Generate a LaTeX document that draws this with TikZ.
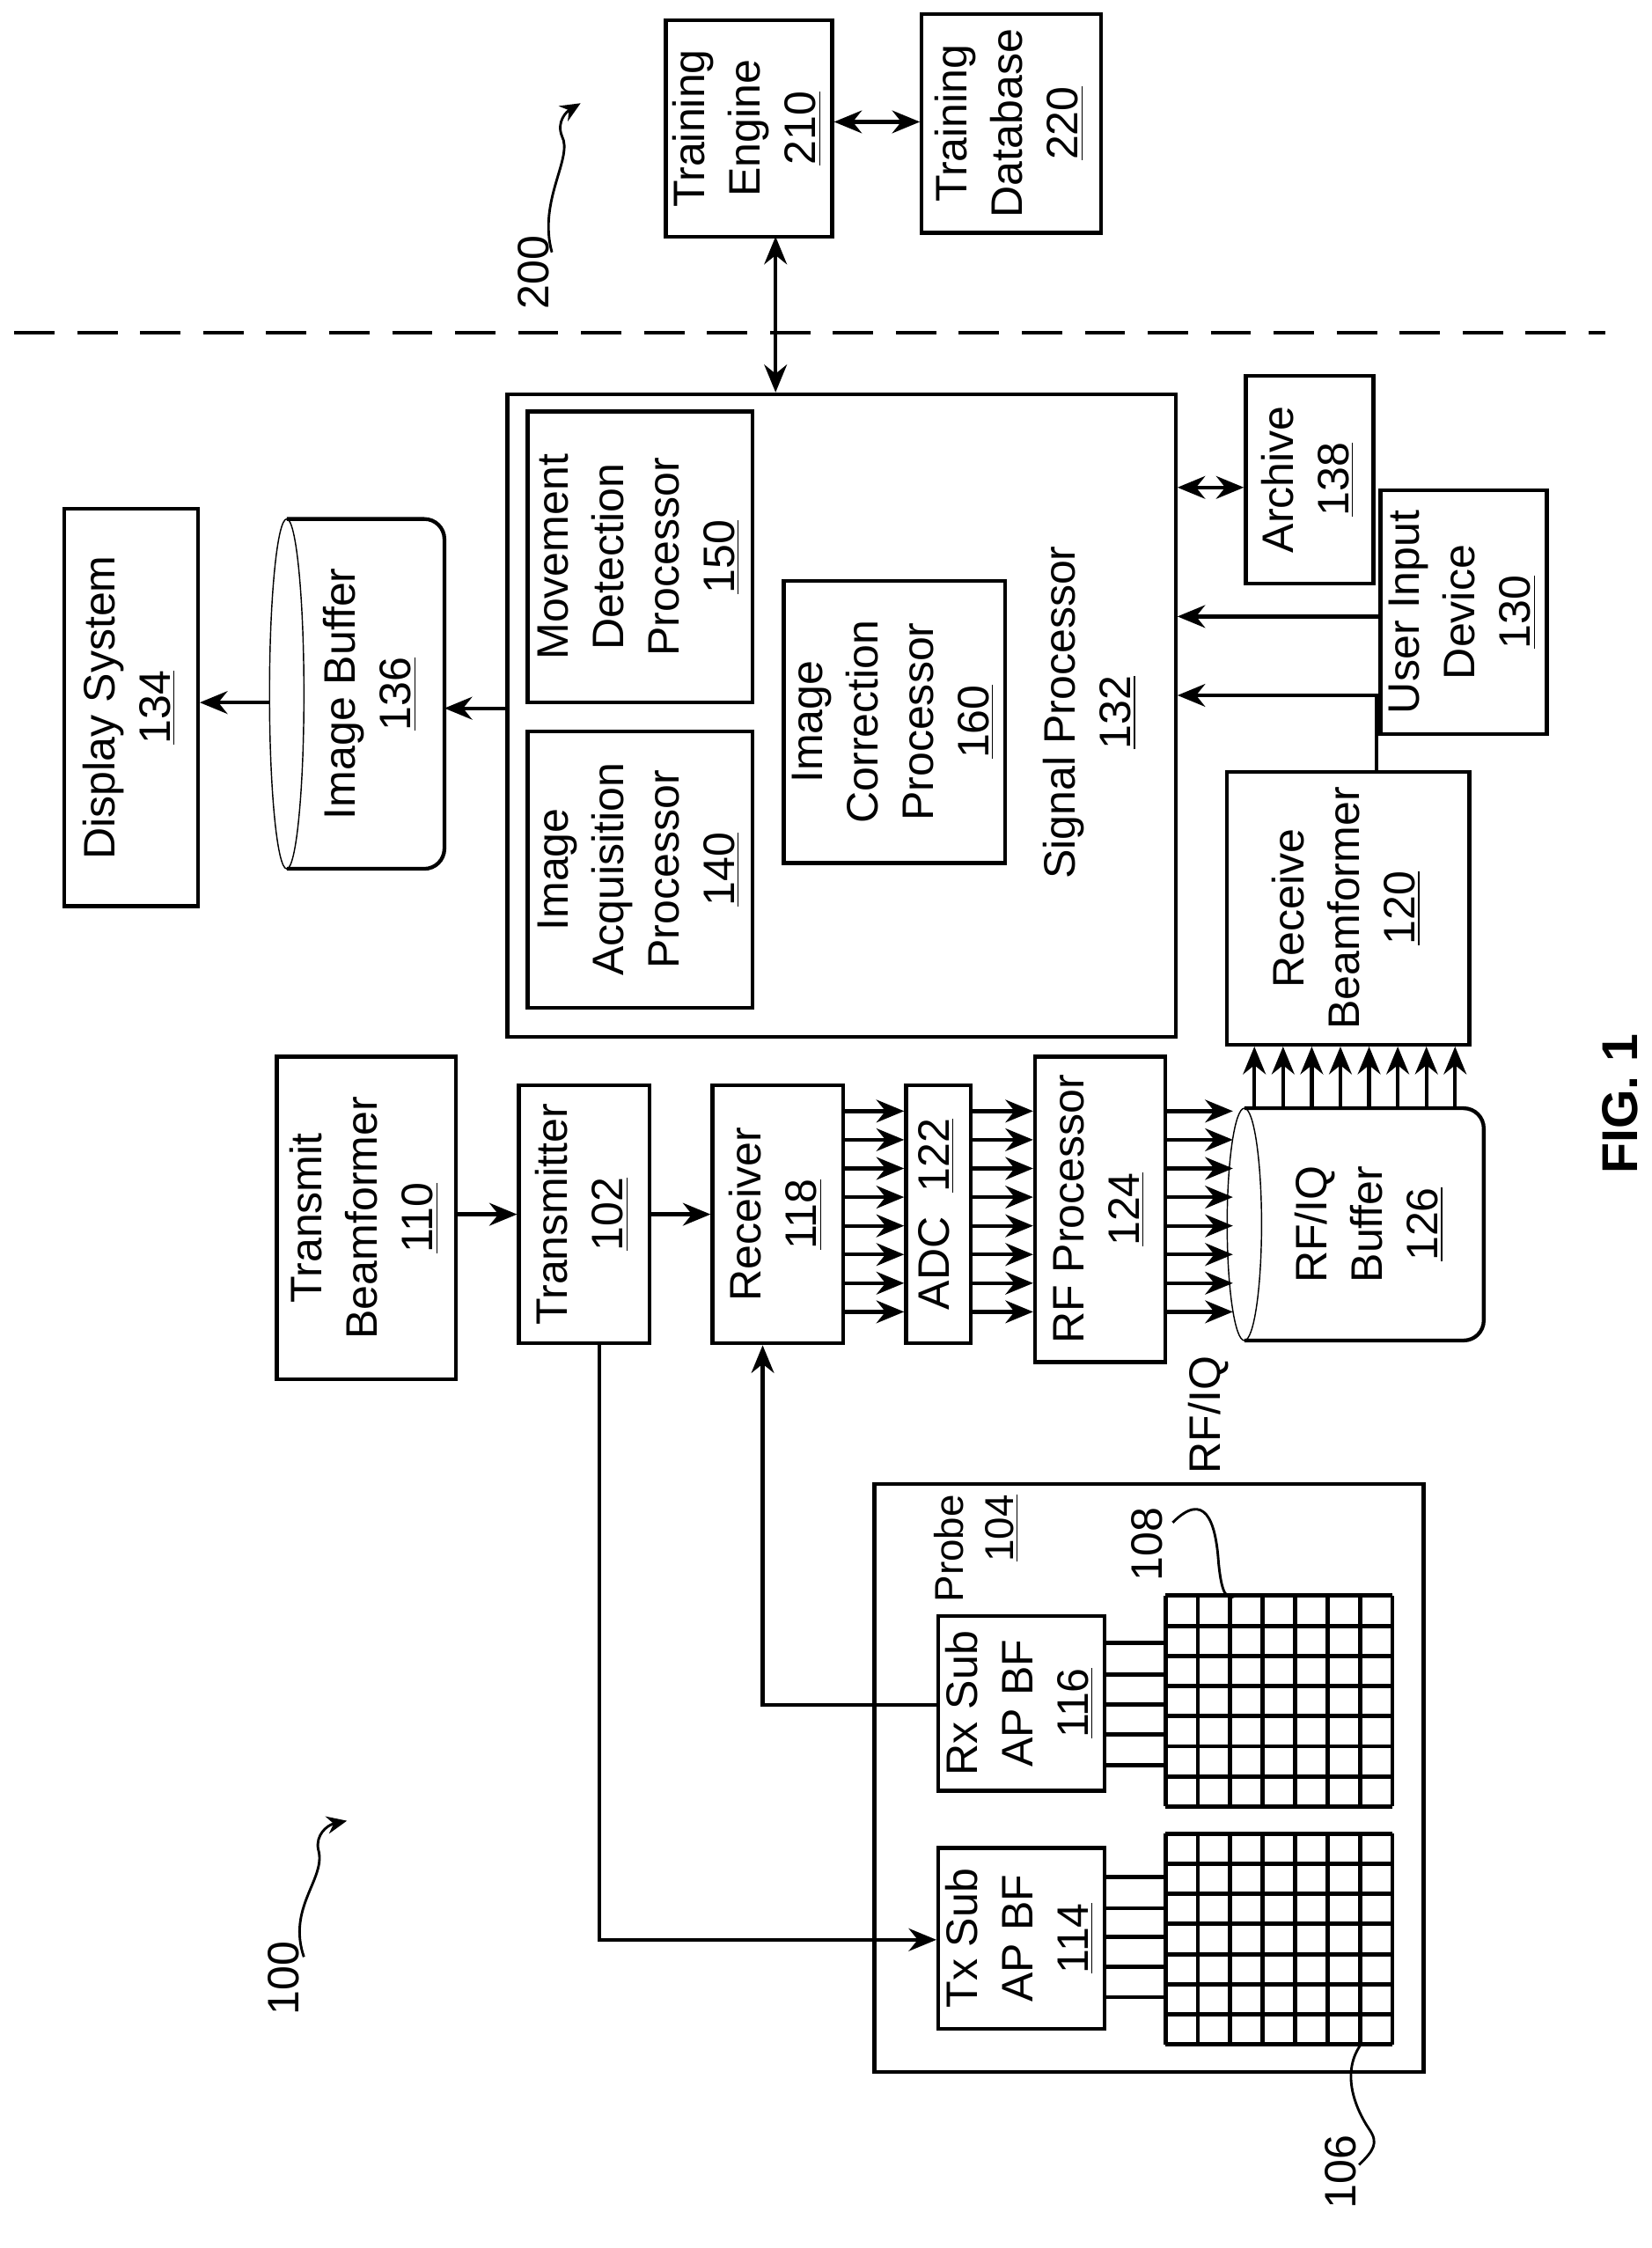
\documentclass[tikz,border=0pt]{standalone}
\usepackage{fontspec}
\setmainfont{Liberation Sans}
\usetikzlibrary{positioning,calc,arrows.meta}
\tikzset{
  box/.style={draw,line width=1.5pt,inner sep=0pt,align=center},
  arr/.style={line width=1.5pt,-{Stealth[length=11pt,width=9pt]}},
  darr/.style={line width=1.5pt,{Stealth[length=11pt,width=9pt]}-{Stealth[length=11pt,width=9pt]}},
  wire/.style={line width=1.7pt},
  squig/.style={line width=1pt}
}
\newcommand{\bx}[6]{%
  \node[box,minimum width={(#4-#2)*0.02cm},minimum height={(#5-#3)*0.02cm}]
    (#1) at ({(#2+#4)/2},{(#3+#5)/2}) {\rotatebox{90}{\begin{tabular}{c}#6\end{tabular}}};}
\begin{document}
\begin{tikzpicture}[x=0.02cm,y=-0.02cm,font=\fontsize{17.5}{22}\selectfont]
  \useasboundingbox (0,0) rectangle (1152,1568);

  % training side
  \draw[line width=1.5pt,dash pattern=on 16pt off 9pt] (10,232) -- (1120,232);
  \bx{train}{473}{14}{572}{165}{Training\\Engine\\\underline{210}}
  \bx{tdb}{643}{14}{768}{158}{Training\\Database\\\underline{220}}
  \draw[darr] (train.east |- 0,85) -- (tdb.west |- 0,85);
  \node[rotate=90] (l200) at (372,190) {200};
  \draw[squig,-{Stealth[length=8pt,width=7pt]}] (385,176) .. controls (375,140) and (400,110) .. (392,95) .. controls (388,85) and (395,78) .. (405,72);

  % signal processor
  \bx{sp}{354}{275}{820}{723}{}
  \node[rotate=90,align=center] (splab) at (760,497) {Signal Processor\\\underline{132}};
  \bx{mdp}{368}{287}{525}{490}{Movement\\Detection\\Processor\\\underline{150}}
  \bx{iap}{368}{510}{525}{703}{Image\\Acquisition\\Processor\\\underline{140}}
  \bx{icp}{548}{405}{700}{602}{Image\\Correction\\Processor\\\underline{160}}
  \draw[darr] (541,165) -- (sp.north -| 541,0);
  \bx{arch}{869}{262}{958}{407}{Archive\\\underline{138}}
  \bx{uid}{970}{342}{1072}{512}{User Input\\Device\\\underline{130}}
  \bx{rbf}{856}{540}{1025}{727}{Receive\\Beamformer\\\underline{120}}
  \draw[darr] (arch.west |- 0,340) -- (sp.east |- 0,340);
  \draw[arr] (uid.west |- 0,430) -- (sp.east |- 0,430);
  \draw[arr] (rbf.north -| 960,0) -- (960,485) -- (sp.east |- 0,485);

  % image buffer and display
  \draw[line width=1.5pt,rounded corners=8pt] (200,362) -- (310,362) -- (310,606) -- (200,606);
  \draw[line width=0.5pt] (200,484) ellipse (12 and 122);
  \node[rotate=90,align=center] (ibuf) at (258,484) {Image Buffer\\\underline{136}};
  \coordinate (ibR) at (310,494);
  \coordinate (ibL) at (188,490);
  \draw[arr] (sp.west |- 0,494) -- (ibR);
  \bx{disp}{45}{355}{138}{632}{Display System\\\underline{134}}
  \draw[arr] (ibL) -- (disp.east |- 0,490);

  % front end chain
  \bx{tbf}{193}{737}{318}{962}{Transmit\\Beamformer\\\underline{110}}
  \bx{tx}{362}{757}{453}{937}{Transmitter\\\underline{102}}
  \bx{rx}{497}{757}{588}{937}{Receiver\\\underline{118}}
  \bx{adc}{632}{757}{677}{937}{ADC \ \underline{122}}
  \bx{rfp}{722}{737}{813}{950}{RF Processor\\\underline{124}}
  \draw[arr] (tbf.east |- 0,847) -- (tx.west |- 0,847);
  \draw[arr] (tx.east |- 0,847) -- (rx.west |- 0,847);
  \foreach \y in {775,795,...,915} {
    \draw[arr] (rx.east |- 0,\y) -- (adc.west |- 0,\y);
    \draw[arr] (adc.east |- 0,\y) -- (rfp.west |- 0,\y);
    \draw[arr] (rfp.east |- 0,\y) -- (860,\y);
  }
  \node[rotate=90] (rfiq) at (843,987) {RF/IQ};

  % rf/iq buffer
  \draw[line width=1.5pt,rounded corners=8pt] (868,773) -- (1035,773) -- (1035,935) -- (868,935);
  \draw[line width=0.5pt] (868,854) ellipse (12 and 81);
  \node[rotate=90,align=center] (rfbuf) at (955,854) {RF/IQ\\Buffer\\\underline{126}};
  \foreach \x in {875,895,...,1015}
    \draw[arr] (\x,773) -- (rbf.south -| \x,0);

  % probe
  \bx{probe}{610}{1035}{993}{1445}{}
  \node[rotate=90,align=right,font=\fontsize{16}{20}\selectfont] (plab) at (681,1080) {Probe\\\underline{104}};
  \bx{rxsub}{655}{1128}{770}{1248}{Rx Sub\\AP BF\\\underline{116}}
  \bx{txsub}{655}{1289}{770}{1415}{Tx Sub\\AP BF\\\underline{114}}
  \foreach \y in {1146,1168,1189,1210,1231}
    \draw[wire] (rxsub.east |- 0,\y) -- (813,\y);
  \foreach \y in {1309,1331,1351,1372,1393}
    \draw[wire] (txsub.east |- 0,\y) -- (813,\y);
  \foreach \yy in {1113,1279} {
    \foreach \i in {0,...,7} {
      \draw[wire] ({813+\i*22.6},\yy) -- ({813+\i*22.6},\yy+147);
      \draw[wire] (813,{\yy+\i*21}) -- (971,{\yy+\i*21});
    }
  }
  \draw[arr] (418,937) -- (418,1353) -- (txsub.west |- 0,1353);
  \draw[arr] (rxsub.west |- 0,1189) -- (532,1189) -- (rx.south -| 532,0);

  % reference labels
  \node[rotate=90] (l108) at (800,1077) {108};
  \draw[squig] (818,1062) .. controls (840,1040) and (848,1060) .. (850,1090) .. controls (852,1110) and (855,1117) .. (862,1113);
  \node[rotate=90] (l106) at (935,1515) {106};
  \draw[squig] (950,1425) .. controls (935,1445) and (945,1470) .. (955,1485) .. controls (962,1495) and (958,1500) .. (948,1510);
  \node[rotate=90] (l100) at (198,1380) {100};
  \draw[squig,-{Stealth[length=8pt,width=7pt]}] (212,1365) .. controls (200,1330) and (228,1310) .. (222,1290) .. controls (220,1280) and (228,1273) .. (242,1270);
  \node[rotate=90,font=\fontsize{20}{24}\bfseries\selectfont] (fig) at (1130,770) {FIG. 1};
\end{tikzpicture}
\end{document}
